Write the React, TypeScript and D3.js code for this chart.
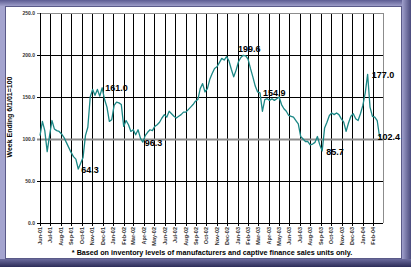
import React from 'react';
import * as d3 from 'd3';

// weekly inventory index, week ending 6/1/01 = 100
const startDate = new Date(2001, 5, 1);
const weeklyIndex = [
  104, 121, 110, 85, 104, 122, 112, 110, 109, 106,
  102, 96, 90, 84, 79, 76, 64.3, 71, 78, 104,
  114, 150, 159, 152, 159, 151, 161.0, 147, 138, 121,
  123, 140, 144, 143, 141, 115, 122, 117, 109, 111,
  105, 111, 101, 96.3, 104, 108, 111, 110, 115, 117,
  120, 125, 129, 126, 133, 130, 127, 125, 127, 129,
  132, 132, 135, 138, 141, 145, 147, 160, 166, 156,
  160, 171, 178, 184, 186, 191, 196, 194, 198, 193,
  183, 174, 182, 192, 197, 199.6, 199, 195, 184, 174,
  163, 156, 154.9, 133, 147, 148, 146, 148, 146, 148,
  150, 141, 136, 133, 128, 127, 126, 122, 118, 103,
  100, 97, 97, 93, 94, 96, 103, 93, 85.7, 113,
  120, 128, 131, 129, 131, 129, 124, 120, 109, 119,
  127, 130, 124, 122, 130, 140, 155, 177.0, 138, 127,
  126, 122, 102.4,
];
const yTicks = [0, 50, 100, 150, 200, 250];
const monthTicks = d3.timeMonth.range(new Date(2001, 5, 1), new Date(2004, 2, 1));
const calloutWeeks = [16, 26, 43, 85, 92, 118, 137, 142];

const yTitle = 'Week Ending 6/1/01=100';
const footnote = '* Based on inventory levels of manufacturers and captive finance sales units only.';

export default function App() {
  const width = 411;
  const height = 267;
  const left = 40, right = 383, top = 13, bottom = 223;

  const x = d3.scaleTime()
    .domain([new Date(2001, 5, 1), new Date(2004, 2, 1)])
    .range([left, right]);
  const y = d3.scaleLinear().domain([0, 250]).range([bottom, top]);

  const points = weeklyIndex.map((v, i) => ({ date: d3.timeDay.offset(startDate, i * 7), v }));
  const line = d3.line<{ date: Date; v: number }>()
    .x(d => x(d.date))
    .y(d => y(d.v));

  const fmt = d3.timeFormat('%b-%y');

  // label offsets for each callout, same order as calloutWeeks
  const offsets = [
    { dx: 3, dy: 4, anchor: 'start' },
    { dx: 3, dy: 3, anchor: 'start' },
    { dx: 2, dy: 4, anchor: 'start' },
    { dx: 6, dy: -3, anchor: 'middle' },
    { dx: 3, dy: 3, anchor: 'start' },
    { dx: 4, dy: 4, anchor: 'start' },
    { dx: 4, dy: 4, anchor: 'start' },
    { dx: -2, dy: 3, anchor: 'start' },
  ];

  return (
    <div style={{ position: 'absolute', left: 0, top: 0 }}>
      <svg width={width} height={height} style={{ display: 'block' }}>
        <defs>
          <linearGradient id="topEdge" x1="0" y1="0" x2="0" y2="1">
            <stop offset="0" stopColor="#5c5c92" />
            <stop offset="1" stopColor="#a9a9d2" />
          </linearGradient>
          <linearGradient id="botEdge" x1="0" y1="0" x2="0" y2="1">
            <stop offset="0" stopColor="#6a6a9c" />
            <stop offset="1" stopColor="#2c2c58" />
          </linearGradient>
          <linearGradient id="rightEdge" x1="0" y1="0" x2="1" y2="0">
            <stop offset="0" stopColor="#a0a0cc" />
            <stop offset="1" stopColor="#4a4a7c" />
          </linearGradient>
        </defs>

        {/* bevelled frame */}
        <rect x={0} y={0} width={width} height={height} fill="#a4a4cf" />
        <rect x={0} y={0} width={width} height={7} fill="url(#topEdge)" />
        <rect x={402} y={0} width={9} height={height} fill="url(#rightEdge)" />
        <rect x={0} y={259} width={width} height={8} fill="url(#botEdge)" />
        <rect x={5.5} y={6.5} width={396} height={252} fill="#ffffff" stroke="#5a5a88" strokeWidth={1} />

        {/* vertical month gridlines */}
        {monthTicks.map((d, i) => (
          <line key={'v' + i} x1={Math.round(x(d)) + 0.5} x2={Math.round(x(d)) + 0.5} y1={top} y2={bottom + 3}
            stroke="#000" strokeWidth={1} />
        ))}

        {/* horizontal gridlines */}
        {yTicks.map(t => (
          <line key={'h' + t} x1={left - 3} x2={right} y1={Math.round(y(t)) + 0.5} y2={Math.round(y(t)) + 0.5}
            stroke={t === 100 || t === 250 ? '#8c8c8c' : '#000'} strokeWidth={t === 100 ? 2 : 1} />
        ))}
        <line x1={right + 0.5} x2={right + 0.5} y1={top} y2={bottom} stroke="#8c8c8c" strokeWidth={1} />
        <line x1={left + 0.5} x2={left + 0.5} y1={top} y2={bottom} stroke="#000" strokeWidth={1} />
        <line x1={left} x2={right} y1={bottom + 0.5} y2={bottom + 0.5} stroke="#000" strokeWidth={1} />

        {/* y tick labels */}
        {yTicks.map(t => (
          <text key={'yl' + t} x={left - 5} y={y(t)} dy="0.35em" textAnchor="end"
            fontFamily="Liberation Sans, Arial, sans-serif" fontSize={5} fontWeight="bold" fill="#333">
            {t.toFixed(1)}
          </text>
        ))}

        {/* x tick labels */}
        {monthTicks.map((d, i) => (
          <text key={'xl' + i} transform={`translate(${x(d) + 2},${bottom + 4}) rotate(-90)`} textAnchor="end"
            fontFamily="Liberation Sans, Arial, sans-serif" fontSize={5.5} fontWeight="bold" fill="#333">
            {fmt(d)}
          </text>
        ))}

        {/* series */}
        <path d={line(points) ?? ''} fill="none" stroke="#1b8785" strokeWidth={1.3} strokeLinejoin="round" />

        {/* callouts */}
        {calloutWeeks.map((w, i) => {
          const p = points[w];
          const o = offsets[i];
          return (
            <text key={'c' + w} x={x(p.date) + o.dx} y={y(p.v) + o.dy} textAnchor={o.anchor}
              fontFamily="Liberation Sans, Arial, sans-serif" fontSize={9} fontWeight="bold" fill="#000">
              {p.v.toFixed(1)}
            </text>
          );
        })}

        {/* axis title */}
        <text transform="translate(12,117) rotate(-90)" textAnchor="middle"
          fontFamily="Liberation Sans, Arial, sans-serif" fontSize={7} fontWeight="bold" fill="#000">
          {yTitle}
        </text>

        {/* footnote */}
        <text x={212} y={255} textAnchor="middle"
          fontFamily="Liberation Sans, Arial, sans-serif" fontSize={7.2} fontWeight="bold" fill="#000">
          {footnote}
        </text>
      </svg>
    </div>
  );
}
